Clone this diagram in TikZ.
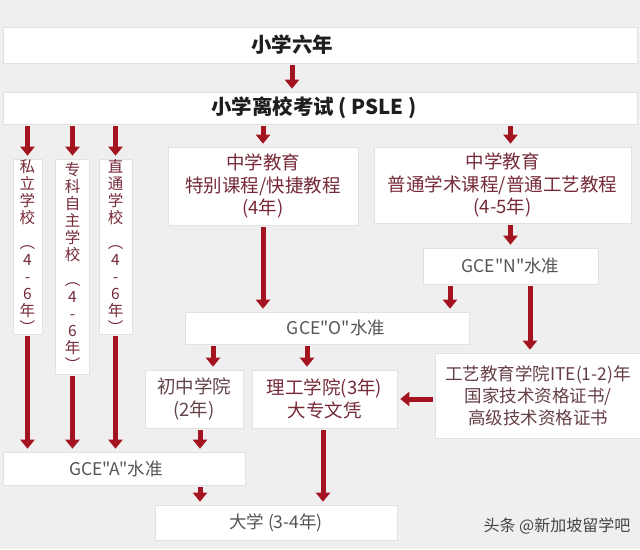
\documentclass[tikz,border=0pt]{standalone}
\usepackage{fontspec}
\setmainfont{Noto Sans CJK SC}[Ligatures=TeXOff]
\usetikzlibrary{arrows.meta}
\definecolor{bg}{RGB}{239,239,239}
\definecolor{arrowred}{RGB}{163,20,32}
\definecolor{txtred}{RGB}{118,42,56}
\definecolor{txtgray}{RGB}{85,85,85}
\definecolor{txtdark}{RGB}{30,30,30}
\definecolor{boxline}{RGB}{226,226,226}
\begin{document}
\begin{tikzpicture}[x=1pt,y=-1pt,
  box/.style={fill=white, draw=boxline, line width=0.6pt, inner sep=0pt, align=center},
  titlefont/.style={font=\fontsize{20.5}{24}\selectfont\bfseries, text=txtdark},
  mainfont/.style={font=\fontsize{18.5}{22.5}\selectfont, text=txtred},
  gcefont/.style={font=\fontsize{17.5}{22}\selectfont, text=txtgray},
  vfont/.style={font=\fontsize{15.5}{17}\selectfont, text=txtred},
  arr/.style={draw=arrowred, line width=5pt, -{Triangle[width=14pt,length=9pt]}, shorten <=2pt, shorten >=3pt}
]
\useasboundingbox (0,0) rectangle (640,549);
\fill[bg] (0,0) rectangle (640,549);

% top boxes
\node[box, titlefont, minimum width=634pt, minimum height=36pt] (b1) at (320,45) {\hspace*{-56pt}小学六年};
\node[box, titlefont, minimum width=634pt, minimum height=32pt] (b2) at (320,108) {\hspace*{-12pt}小学离校考试 ( PSLE )};

% vertical school boxes
\node[box, vfont, minimum width=29pt, minimum height=175pt] (v1) at (27.5,246.5) {私\\立\\学\\校\\[8pt]︵\\4\\-\\6\\年\\︶};
\node[box, vfont, minimum width=34pt, minimum height=215pt] (v2) at (72.5,266.5) {专\\科\\自\\主\\学\\校\\[8pt]︵\\4\\-\\6\\年\\︶};
\node[box, vfont, minimum width=33pt, minimum height=175pt] (v3) at (115.5,246.5) {直\\通\\学\\校\\[8pt]︵\\4\\-\\6\\年\\︶};

% secondary education
\node[box, mainfont, minimum width=190pt, minimum height=78pt] (b3) at (263,186) {中学教育\\特别课程/快捷教程\\(4年)};
\node[box, mainfont, minimum width=257pt, minimum height=76pt] (b4) at (502.5,185) {中学教育\\普通学术课程/普通工艺教程\\(4-5年)};

\node[box, gcefont, minimum width=175pt, minimum height=36pt] (n) at (510.5,266) {GCE"N"水准};
\node[box, gcefont, minimum width=284pt, minimum height=32pt] (o) at (327,328) {\hspace*{18pt}GCE"O"水准};

\node[box, mainfont, text=txtgray!60!txtred, minimum width=98pt, minimum height=58pt] (c) at (194,399) {初中学院\\(2年)};
\node[box, mainfont, minimum width=145pt, minimum height=58pt] (p) at (324.5,399) {理工学院(3年)\\大专文凭};
\node[box, mainfont, font=\fontsize{17.5}{22}\selectfont, text=txtgray!50!txtred, minimum width=206pt, minimum height=85pt] (ite) at (538,395.5) {工艺教育学院ITE(1-2)年\\国家技术资格证书/\\高级技术资格证书};

\node[box, gcefont, minimum width=242pt, minimum height=33pt] (a) at (124,468.5) {\hspace*{-16pt}GCE"A"水准};
\node[box, gcefont, minimum width=242pt, minimum height=35pt] (u) at (276,522.5) {大学 (3-4年)};

\node[font=\fontsize{16}{18}\selectfont, text=txtgray!80!black] (wm) at (557,526) {头条 @新加坡留学吧};

% arrows
\draw[arr] ([xshift=-28pt]b1.south) -- ([xshift=-28pt]b1.south |- b2.north);
\draw[arr] (v1.north |- b2.south) -- (v1.north);
\draw[arr] (v2.north |- b2.south) -- (v2.north);
\draw[arr] (v3.north |- b2.south) -- (v3.north);
\draw[arr] (b3.north |- b2.south) -- (b3.north);
\draw[arr] (n.north |- b2.south) -- (n.north |- b4.north);
\draw[arr] (n.north |- b4.south) -- (n.north);
\draw[arr] (b3.south) -- (b3.south |- o.north);
\draw[arr] ([xshift=-60.5pt]n.south) -- ([xshift=-60.5pt]n.south |- o.north);
\draw[arr] ([xshift=19.5pt]n.south) -- ([xshift=19.5pt]n.south |- ite.north);
\draw[arr] ([xshift=-114pt]o.south) -- ([xshift=-114pt]o.south |- c.north);
\draw[arr] ([xshift=-20pt]o.south) -- ([xshift=-20pt]o.south |- p.north);
\draw[arr] (ite.west |- p.east) -- (p.east);
\draw[arr] (v1.south) -- (v1.south |- a.north);
\draw[arr] (v2.south) -- (v2.south |- a.north);
\draw[arr] (v3.south) -- (v3.south |- a.north);
\draw[arr] ([xshift=6pt]c.south) -- ([xshift=6pt]c.south |- a.north);
\draw[arr] ([xshift=76pt]a.south) -- ([xshift=76pt]a.south |- u.north);
\draw[arr] ([xshift=-1.5pt]p.south) -- ([xshift=-1.5pt]p.south |- u.north);
\end{tikzpicture}
\end{document}
